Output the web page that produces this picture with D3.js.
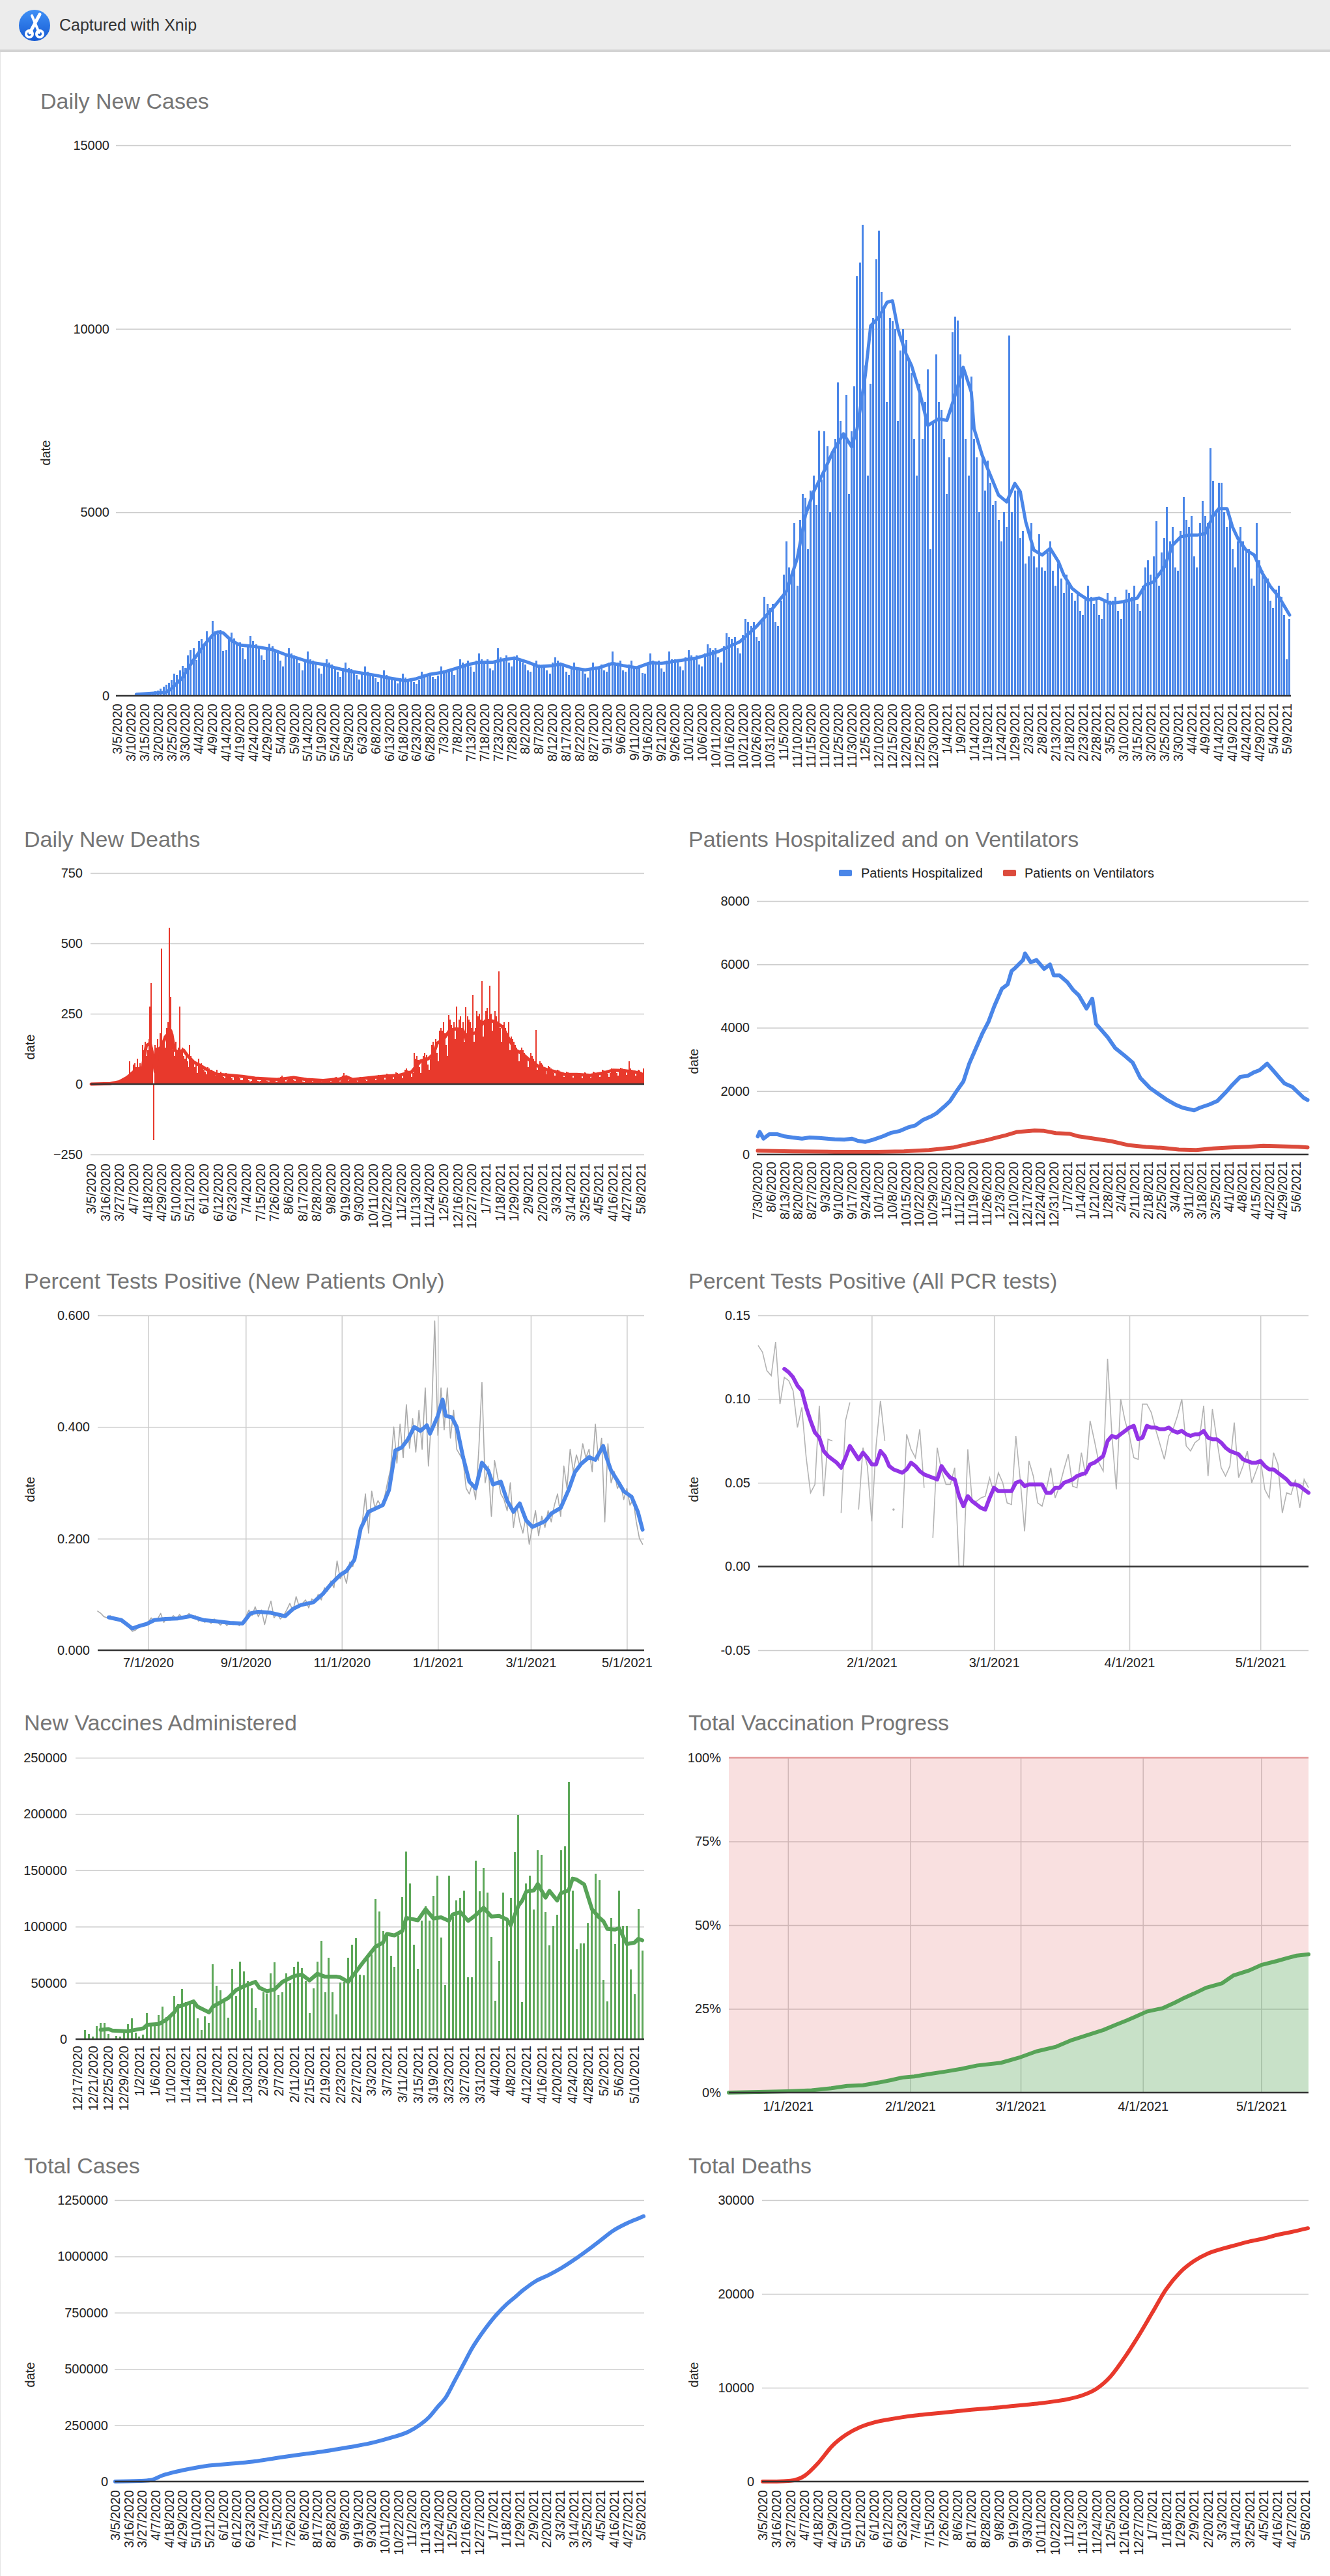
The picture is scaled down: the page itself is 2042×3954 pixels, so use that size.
<!DOCTYPE html>
<html><head><meta charset="utf-8">
<script src="https://cdn.jsdelivr.net/npm/d3@7"></script>
<style>body{margin:0;background:#fff;} svg text{font-family:"Liberation Sans",Arial,Helvetica,sans-serif;}</style>
</head><body><script>
// ---------------- DATA ----------------
const casesStart = new Date(2020,2,5);
const dailyCases = [0,1,2,3,4,8,10, 15,20,28,40,55,70,90, 120,150,190,240,300,360,420, 600,560,700,820,760,1100,1250,
1300,980,1500,1550,1400,1750,1600, 2040,1750,1680,1800,1220,1250,1600, 1720,1560,1400,1450,1300,1000,1350,
1630,1500,1400,1350,1100,980,1300, 1420,1350,1250,1200,950,800,1150, 1300,1150,1100,1050,880,700,1000,
1200,1000,950,900,750,600,850, 1000,900,850,800,650,520,760, 900,760,720,700,560,450,650,
800,650,620,600,480,380,560, 700,560,520,500,420,340,480, 600,500,470,450,380,320,430,
650,580,560,600,520,460,550, 800,700,650,720,680,560,800, 1000,900,850,950,800,650,950,
1150,1000,950,1000,750,700,900, 1300,1050,1000,1100,900,800,1050, 1100,950,900,850,700,650,850,
950,850,800,850,700,600,900, 1050,950,900,800,650,560,800, 900,780,720,700,600,500,700,
900,800,780,850,700,650,900, 1200,900,900,950,700,650,850, 950,800,780,760,620,600,850,
1150,950,900,950,750,650,950, 1200,1000,1000,950,800,700,1050, 1250,1100,1050,1100,850,800,1150,
1400,1300,1250,1300,1050,900,1350, 1700,1600,1550,1600,1300,1150,1650, 2100,2000,1900,2000,1600,1500,2100,
2700,2500,2400,2500,2000,1900,2600, 3300,4200,3500,3300,4700,3000,4800, 5500,5400,4000,5600,6000,5200,7230,
5900,7200,6800,5000,6600,7000,8540, 7500,7100,8210,5500,7200,8440,11440, 11800,12826,9000,6000,8500,10300,11890,
12680,11000,10600,8000,10300,10200,10000, 7500,9400,10000,9700,9200,8800,7000, 6000,8500,7000,8000,8900,4000,7500,
9300,8000,7800,7000,5500,6500,9900, 10340,10230,9300,8800,7000,6000,8700, 7000,6500,5000,6500,5600,6400,5800,
5200,5300,4800,4200,5000,4600,9820, 5000,5600,5600,4300,4500,3600,3800, 4700,3800,3500,4400,3500,3400,3900,
4200,3400,3000,3600,3200,2800,3300, 3100,2800,2600,2800,2300,2200,2700, 3000,2700,2500,2700,2200,2100,2600,
2800,2600,2600,2700,2300,2100,2600, 2900,2800,2700,3000,2500,2300,3000, 3500,3700,3300,3800,4760,3000,3900,
4300,5140,4200,4600,3500,3400,4500, 5420,4800,4600,4900,3800,3500,4700, 5300,4900,4700,6750,5850,5000,5800,
5800,5000,4600,4800,4000,3500,4200, 4600,4200,4000,4000,3200,3000,4700, 3700,3400,3200,3200,2600,2400,2900,
3000,2700,2200,1000,2100];
const casesAvgDays = [7,18,20,24,28,32,35,37,39,42,45,49,52,57,62,66,71,76,80,85,90,95,99,106,110,115,120,124,129,133,138,141,146,151,155,160,163,167,172,177,182,186,191,196,200,205,213,221,229,235,241,246,250,253,256,260,263,267,270,272,275,277,280,283,285,287,290,292,295,298,302,305,308,311,314,315,318,321,324,327,330,332,334,337,340,343,346,348,351,354,357,361,365,370,375,378,381,385,388,391,394,397,400,403,405,408,410,412,415,418,421,424,427,431];
const casesAvgVals = [40,95,200,497,976,1385,1651,1740,1710,1503,1385,1355,1325,1260,1118,1030,912,852,764,675,616,557,497,408,467,586,645,734,852,912,912,970,1030,912,799,823,865,764,704,764,882,823,764,900,882,940,1030,1207,1479,1887,2384,2840,3745,4920,5557,6142,6640,7140,6780,7278,8725,10083,10314,10722,10763,9994,9315,9000,8272,7367,7547,7502,8183,8950,8272,7278,6551,6008,5468,5283,5787,5557,4740,3970,3835,4016,3657,3290,2930,2752,2610,2663,2521,2565,2663,3018,3107,3515,4106,4332,4378,4378,4420,4920,5101,5101,4602,4287,3970,3835,3338,2974,2702,2201];

const dailyDeaths = [0,0,0,0,0,0,0, 0,0,0,0,1,0,1, 1,2,2,3,4,5,6, 8,10,12,15,14,20,25, 30,28,80,35,40,70,75,
60,90,50,75,60,140,120, 150,100,120,160,275,358,130, -200,140,130,160,120,180,481, 150,170,130,200,220,555,311,
190,120,100,150,110,130,275, 120,130,100,90,110,80,60, 140,100,90,80,60,70,40, 90,70,75,60,50,45,35,
60,55,40,50,40,35,30, 50,40,35,45,30,25,20, 40,35,30,35,25,20,15, 35,30,30,25,20,15,15,
30,25,25,20,15,10,12, 25,22,20,18,12,10,12, 22,20,18,15,12,8,10, 20,18,16,14,10,8,12,
20,25,30,22,18,10,15, 25,22,28,20,15,12,18, 20,18,15,14,10,8,12, 18,16,15,12,10,8,10,
16,15,14,12,10,8,10, 18,16,14,12,10,8,12, 20,22,25,18,15,10,14, 30,40,28,22,18,12,15,
22,20,18,16,12,10,14, 25,22,20,18,15,12,16, 28,25,24,22,18,14,20, 32,30,28,26,22,16,24,
36,34,32,30,25,18,28, 42,40,38,35,28,20,32, 50,55,48,45,38,25,40, 110,90,100,85,60,40,80,
100,110,95,105,70,50,90, 140,150,130,160,110,80,190, 200,190,220,180,140,100,246, 230,210,200,220,160,275,190,
230,240,200,220,150,274,180, 240,230,220,200,318,150,200, 260,240,250,230,366,170,230, 260,270,230,350,250,190,230,
260,240,220,401,200,150,210, 220,200,190,180,219,120,170, 160,150,140,130,110,80,120, 130,120,110,100,90,60,90,
110,100,90,80,192,50,70, 80,75,70,60,50,35,55, 65,60,55,50,40,30,45, 50,48,45,40,35,25,40,
45,42,40,38,30,22,35, 40,38,36,35,28,20,32, 42,40,38,36,30,22,35, 45,42,40,38,32,25,38,
50,48,46,42,36,26,40, 55,52,50,48,40,30,45, 58,55,52,50,45,32,48, 80,55,52,48,40,30,45,
50,48,45,40,55];
const deathsAvgDays = [0,15,22,28,35,40,43,46,48,50,52,55,58,62,63,65,68,72,75,80,85,92,98,108,118,128,145,158,168,181,194,199,204,214,227,240,250,257,263,267,270,275,280,285,290,293,296,301,306,311,316,321,326,331,336,343,349,356,363,369,379,389,399,407,415,424,430];
const deathsAvgVals = [0,2,8,23,51,59,137,145,106,43,121,133,168,190,176,121,113,121,102,78,66,47,35,31,27,21,16,23,16,13,18,26,16,21,27,31,43,82,90,106,145,160,192,196,192,152,176,184,219,227,219,203,160,121,109,82,63,51,43,35,34,31,39,49,48,43,35];

const hospStart = new Date(2020,6,30);
const hospDayCount = 287;
const hospSeries = ['Patients Hospitalized','Patients on Ventilators'];
const hospDays = [0,1,3,6,10,14,18,23,27,32,36,40,45,49,52,56,60,65,69,74,78,82,86,90,93,97,100,103,107,110,113,117,120,123,127,130,132,134,138,139,142,145,149,152,154,157,161,164,167,171,174,176,182,186,191,195,199,204,208,213,217,221,227,230,235,239,244,247,251,255,258,261,263,265,268,271,274,278,281,284,286];
const hospVals = [570,710,500,640,640,570,535,500,535,520,500,480,466,500,431,397,466,570,675,744,849,918,1092,1197,1301,1510,1684,1962,2310,2866,3284,3840,4188,4675,5232,5371,5788,5893,6136,6345,6066,6136,5858,5997,5649,5649,5440,5197,5023,4605,4919,4118,3701,3353,3110,2901,2414,2101,1927,1718,1579,1475,1391,1475,1579,1684,1997,2205,2449,2484,2588,2657,2762,2866,2657,2449,2240,2136,1962,1788,1718];
const ventDays = [0,18,40,62,76,89,102,111,120,129,135,144,149,155,162,167,175,184,193,202,210,219,228,237,246,255,263,272,281,286];
const ventVals = [118,97,83,83,97,139,223,348,466,605,710,758,744,675,654,570,500,417,292,237,209,153,139,188,223,243,271,257,243,223];

// Percent positive (new patients): day offsets from 7/1/2020
const newPosBase = new Date(2020,6,1);
const newPosDomain = [new Date(2020,4,30), new Date(2021,4,12)];
const newPosRawFirstT = -32, newPosRawStep = 2;
const newPosRaw = [.070,.066,.060,.058,.062,.055,.057,.052,.050,.046,.040,.034,.036,.042,.046,.044,
.050,.058,.052,.056,.066,.050,.058,.054,.062,.056,.064,.058,.060,.066,.058,.062,
.052,.056,.050,.054,.048,.056,.050,.045,.052,.044,.050,.046,.048,.044,.050,.060,
.072,.062,.078,.060,.072,.046,.070,.088,.058,.066,.056,.062,.072,.084,.070,.096,
.078,.084,.090,.076,.092,.086,.100,.090,.112,.106,.124,.112,.160,.128,.138,.120,
.158,.150,.180,.200,.228,.280,.210,.285,.255,.268,.258,.272,.300,.325,.400,.335,
.405,.345,.440,.362,.415,.355,.430,.360,.470,.330,.420,.590,.385,.470,.395,.470,
.380,.430,.360,.350,.340,.290,.280,.300,.270,.360,.480,.300,.330,.240,.340,.310,
.280,.270,.250,.300,.220,.260,.230,.210,.240,.190,.220,.250,.205,.240,.220,.250,
.230,.260,.280,.240,.330,.290,.360,.320,.350,.330,.370,.345,.360,.320,.405,.340,
.380,.230,.370,.300,.320,.290,.300,.270,.290,.260,.270,.230,.200,.190];
const newPosAvgT = [-25,-17,-10,-5,-1,4,11,19,27,35,43,52,60,65,70,78,87,92,97,105,111,116,122,126,131,135,140,149,153,157,161,165,169,173,177,179,184,187,189,193,196,200,204,208,212,216,219,224,228,232,236,240,244,248,252,256,262,267,271,275,280,284,289,291,294,298,302,307,311,314];
const newPosAvgV = [0.059,0.054,0.039,0.044,0.047,0.054,0.056,0.057,0.061,0.054,0.052,0.049,0.048,0.066,0.069,0.067,0.061,0.074,0.081,0.086,0.101,0.118,0.135,0.142,0.162,0.218,0.248,0.260,0.287,0.358,0.363,0.378,0.400,0.393,0.403,0.388,0.420,0.449,0.420,0.417,0.400,0.346,0.302,0.290,0.336,0.322,0.297,0.302,0.268,0.248,0.263,0.233,0.221,0.226,0.231,0.245,0.255,0.287,0.319,0.334,0.346,0.341,0.366,0.346,0.322,0.304,0.285,0.275,0.248,0.216];
const newPosXTicks = [new Date(2020,6,1),new Date(2020,8,1),new Date(2020,10,1),new Date(2021,0,1),new Date(2021,2,1),new Date(2021,4,1)];

// Percent positive (all PCR): daily from 1/6/2021
const pcrStart = new Date(2021,0,6);
const pcrDomain = [new Date(2021,0,6), new Date(2021,4,12)];
const pcrRaw = [.132,.128,.117,.114,.134,.097,.113,.111,.105,.083,
.095,.065,.044,.049,.096,.042,.076,.075,null,.032,
.087,.098,null,.034,.071,.060,.027,.072,.099,.075,
null,.034,null,.023,.079,.070,.065,.082,.047,null,
.017,.071,.057,.049,.049,.059,.000,.000,.070,.039,
.039,.041,.042,.053,.044,.056,.050,.038,.037,.078,
.052,.021,.063,.054,.038,.036,.046,.059,.041,.048,
.058,.067,.048,.047,.068,.054,.087,.075,.062,.057,
.124,.078,.046,.100,.087,.078,.065,.064,.097,.097,
.092,.082,.073,.064,.078,.082,.090,.100,.072,.069,
.074,.076,.096,.054,.094,.076,.059,.054,.060,.086,
.053,.060,.069,.050,.057,.064,.046,.041,.068,.061,
.032,.044,.043,.052,.035,.052,.047];
const pcrAvgFirstDay = 6;
const pcrAvg = [.118,.116,.113,.108,.105,.095,.087,.080,.077,.069,
.066,.064,.062,.059,.065,.072,.068,.064,.068,.065,
.061,.061,.069,.066,.060,.058,.057,.056,.058,.062,
.060,.057,.055,.054,.053,.052,.060,.056,.053,.052,
.042,.036,.042,.039,.037,.035,.034,.041,.047,.045,
.045,.045,.045,.050,.051,.048,.049,.049,.049,.049,
.044,.044,.047,.047,.050,.051,.052,.054,.055,.056,
.061,.062,.064,.066,.075,.078,.077,.079,.081,.083,
.084,.076,.077,.084,.083,.083,.082,.082,.083,.081,
.080,.081,.079,.078,.079,.079,.081,.077,.076,.076,
.074,.071,.069,.068,.067,.064,.063,.062,.062,.063,
.060,.058,.058,.056,.054,.052,.049,.049,.048,.046,.044];
const pcrXTicks = [new Date(2021,1,1),new Date(2021,2,1),new Date(2021,3,1),new Date(2021,4,1)];

// Vaccines: daily from 12/17/2020
const vaccStart = new Date(2020,11,17);
const dailyVacc = [0,0,8300,4400,2300,11600,14700,14200,4400,0,3100,2300,5700,13400,18600,5700,2300,3900,23000,12100,13400,21200,28900,19900,21200,38000,31000,44400,32800,34100,34100,18600,8300,20400,14200,66400,47500,43600,35400,19100,62500,38000,69000,60400,51400,44900,27600,16500,41800,40600,58600,68500,39300,41800,58600,49600,64300,69000,63300,51700,23000,44900,69000,87600,41800,72100,41800,22000,50400,50900,72100,83900,89600,57300,56600,74100,75400,124500,113400,96100,93500,74100,64300,92200,126300,166600,138200,83900,62500,105600,118000,105100,127100,145200,90100,47800,145200,109000,123200,125800,132200,54800,54800,158800,131500,152100,130200,90900,34100,69500,130400,106400,125300,165800,198900,32800,138200,145200,114900,167600,163800,112900,83200,100700,110800,167600,171500,228600,132200,80100,85000,85000,103100,116800,147000,141300,52700,33300,107700,84500,132200,100500,100500,61700,39800,115500,78500];
const vaccAvgDays = [6,8,9,13,15,17,18,21,23,25,26,28,30,31,34,35,37,39,41,43,46,47,49,51,53,56,58,60,62,64,67,68,70,72,74,77,79,80,82,84,85,88,90,92,94,96,97,99,101,103,105,107,109,111,112,114,115,116,118,119,121,122,124,125,127,128,129,131,133,135,136,137,139,140,142,144,145,146];
const vaccAvgVals = [8300,9000,7700,7000,8300,9600,12700,13400,17300,23800,28900,31000,33600,28900,23800,28900,32800,36700,43600,47000,50900,45700,42600,44400,50900,56100,57300,52200,58100,55500,55500,54800,50900,59900,69000,81900,85800,93500,92200,96100,107700,105600,115500,107200,108200,105100,110800,112900,105100,110300,116800,109000,109500,106400,101300,118600,123200,131000,132200,137900,125800,131700,123200,129700,132200,142600,141800,137400,115500,107700,104600,97900,97400,98700,84500,85800,89100,87800];

// Vaccination progress (% of population), day offsets from 12/17/2020
const progDomain = [new Date(2020,11,17), new Date(2021,4,13)];
const progDays = [0,15,21,26,30,34,38,41,44,47,50,55,59,63,69,74,78,83,87,91,95,98,101,103,106,110,113,115,118,121,125,128,132,135,139,142,144,147];
const progVals = [0,0.4,0.7,1.3,2.0,2.2,3.0,3.7,4.5,4.8,5.4,6.3,7.1,8.1,8.9,10.6,12.3,13.7,15.7,17.2,18.7,20.2,21.6,22.6,24.2,25.2,26.8,28.0,29.6,31.3,32.6,35.0,36.5,38.1,39.3,40.3,40.9,41.3];
const progXTicks = [new Date(2021,0,1),new Date(2021,1,1),new Date(2021,2,1),new Date(2021,3,1),new Date(2021,4,1)];

// Totals, day offsets from 3/5/2020
const totalCasesDays = [0,20,29,38,48,59,72,86,100,114,128,142,156,170,183,197,211,225,239,249,256,263,270,277,284,291,298,305,312,319,326,333,343,354,364,375,385,396,406,417,427,431];
const totalCasesVals = [0,2600,6500,26000,41500,54600,67500,75300,81800,89600,101300,113000,123400,133800,145500,158500,174100,194900,220800,253300,285800,331200,376700,448200,519600,591000,649500,701500,746900,785900,818400,850800,889800,918400,948300,987200,1026200,1071700,1113300,1145700,1169100,1178200];
const totalDeathsDays = [0,11,22,33,44,55,66,77,88,99,110,121,132,143,154,165,176,187,198,209,220,231,242,253,264,275,286,297,308,319,330,341,352,363,374,385,396,407,418,431];
const totalDeathsVals = [0,5,80,600,2000,3800,5000,5800,6300,6600,6850,7050,7200,7350,7500,7650,7780,7900,8050,8200,8350,8550,8800,9200,9900,11200,13200,15500,18000,20500,22300,23500,24300,24800,25200,25600,25900,26300,26600,27000];

// Y tick values
const casesYTicks = [0,5000,10000,15000];
const deathsYTicks = [-250,0,250,500,750];
const hospYTicks = [0,2000,4000,6000,8000];
const newPosYTicks = [0,0.2,0.4,0.6];
const pcrYTicks = [-0.05,0,0.05,0.10,0.15];
const vaccYTicks = [0,50000,100000,150000,200000,250000];
const progYTicks = [0,25,50,75,100];
const totalCasesYTicks = [0,250000,500000,750000,1000000,1250000];
const totalDeathsYTicks = [0,10000,20000,30000];

// Category dates and x tick labels
const fmtDate = d3.timeFormat('%-m/%-d/%Y');
const nDays = dailyCases.length;
const caseDates = d3.range(nDays).map(i => d3.timeDay.offset(casesStart, i));
const hospDates = d3.range(hospDayCount).map(i => d3.timeDay.offset(hospStart, i));
const vaccDates = dailyVacc.map((_, i) => d3.timeDay.offset(vaccStart, i));
const casesTickIdx = d3.range(0, nDays, 5);
const casesTickLabels = casesTickIdx.map(i => fmtDate(caseDates[i]));
const elevenTickIdx = d3.range(0, nDays, 11);
const elevenTickLabels = elevenTickIdx.map(i => fmtDate(caseDates[i]));
const hospTickIdx = d3.range(0, hospDayCount, 7);
const hospTickLabels = hospTickIdx.map(i => fmtDate(hospDates[i]));
const vaccTickIdx = d3.range(0, dailyVacc.length, 4);
const vaccTickLabels = vaccTickIdx.map(i => fmtDate(vaccDates[i]));

// ---------------- DRAWING ----------------
const FONT = '"Liberation Sans", Arial, Helvetica, sans-serif';
const W = 2042, H = 3954;
const svg = d3.select('body').append('svg').attr('width', W).attr('height', H);
svg.append('rect').attr('width', W).attr('height', H).attr('fill', '#fff');

// header
svg.append('rect').attr('width', W).attr('height', 76).attr('fill', '#ececec');
svg.append('rect').attr('y', 76).attr('width', W).attr('height', 4).attr('fill', '#d3d3d3');
const defs = svg.append('defs');
const ig = defs.append('linearGradient').attr('id', 'ig').attr('x1', 0).attr('y1', 0).attr('x2', 0).attr('y2', 1);
ig.append('stop').attr('offset', 0).attr('stop-color', '#3f90f6');
ig.append('stop').attr('offset', 1).attr('stop-color', '#1559d2');
svg.append('circle').attr('cx', 53).attr('cy', 39).attr('r', 24).attr('fill', 'url(#ig)');
const sc = svg.append('g').attr('stroke', '#fff').attr('stroke-linecap', 'round').attr('fill', 'none');
sc.append('line').attr('x1', 46).attr('y1', 50).attr('x2', 61).attr('y2', 22).attr('stroke-width', 5);
sc.append('line').attr('x1', 60).attr('y1', 50).attr('x2', 49).attr('y2', 24).attr('stroke-width', 4);
sc.append('circle').attr('cx', 45).attr('cy', 52).attr('r', 5).attr('stroke-width', 4);
sc.append('circle').attr('cx', 61).attr('cy', 52).attr('r', 5).attr('stroke-width', 4);
svg.append('text').attr('x', 91).attr('y', 47).attr('font-size', 25).attr('fill', '#333').text('Captured with Xnip');
svg.append('line').attr('x1', 0.5).attr('x2', 0.5).attr('y1', 80).attr('y2', H).attr('stroke', '#e4e4e4');

function title(x, y, t) {
  svg.append('text').attr('x', x).attr('y', y).attr('font-size', 34).attr('fill', '#757575').text(t);
}
function dateTitle(x, y) {
  svg.append('text').attr('transform', `translate(${x},${y}) rotate(-90)`).attr('text-anchor', 'middle')
    .attr('dy', '0.35em').attr('font-size', 20).attr('fill', '#222').text('date');
}
function yAxis(y, ticks, fmt, x0, x1, labelRight, zeroVal) {
  const g = svg.append('g').attr('transform', `translate(${x0},0)`)
    .call(d3.axisLeft(y).tickValues(ticks).tickFormat(fmt).tickSize(-(x1 - x0)).tickPadding(x0 - labelRight));
  g.attr('font-family', FONT).attr('font-size', 20);
  g.select('.domain').remove();
  g.selectAll('.tick line').attr('stroke', d => d === zeroVal ? 'none' : '#cccccc').attr('stroke-width', 1.5);
  g.selectAll('.tick text').attr('fill', '#222');
  return g;
}
function baseline(yv, x0, x1) {
  svg.append('line').attr('x1', x0).attr('x2', x1).attr('y1', yv).attr('y2', yv)
    .attr('stroke', '#333').attr('stroke-width', 2.5);
}
function xBandAxis(x, idx, labels, axisY, labelTop) {
  const g = svg.append('g').attr('transform', `translate(0,${axisY})`)
    .call(d3.axisBottom(x).tickValues(idx).tickFormat(d => labels[idx.indexOf(d)]).tickSize(0));
  g.attr('font-family', FONT).attr('font-size', 20);
  g.select('.domain').remove();
  g.selectAll('.tick text').attr('fill', '#222').attr('transform', 'rotate(-90)').attr('text-anchor', 'end')
    .attr('x', -(labelTop - axisY)).attr('y', 0).attr('dy', '0.35em');
}
function xTimeAxis(x, ticks, axisY, plotTop, pad) {
  const g = svg.append('g').attr('transform', `translate(0,${axisY})`)
    .call(d3.axisBottom(x).tickValues(ticks).tickFormat(fmtDate).tickSize(-(axisY - plotTop)).tickPadding(pad));
  g.attr('font-family', FONT).attr('font-size', 20);
  g.select('.domain').remove();
  g.selectAll('.tick line').attr('stroke', '#cccccc').attr('stroke-width', 1.5);
  g.selectAll('.tick text').attr('fill', '#222');
}
function bars(x, y, data, color, wFrac) {
  const bw = Math.max(1, Math.round(x.step() * wFrac));
  svg.append('g').attr('shape-rendering', 'crispEdges').selectAll('rect').data(data).join('rect')
    .attr('x', (d, i) => Math.round(x(i) + x.bandwidth() / 2 - bw / 2))
    .attr('width', bw)
    .attr('y', d => y(Math.max(0, d)))
    .attr('height', d => Math.abs(y(d) - y(0)))
    .attr('fill', color);
}
function pathLine(points, color, width, curve) {
  const l = d3.line().x(d => d[0]).y(d => d[1]).curve(curve || d3.curveLinear);
  svg.append('path').attr('d', l(points)).attr('fill', 'none').attr('stroke', color)
    .attr('stroke-width', width).attr('stroke-linejoin', 'round').attr('stroke-linecap', 'round');
}

const BLUE = '#4a86e8', RED = '#e8392c', VRED = '#dc4b3c', PURPLE = '#9334e6', GREEN = '#5ea85a', GREENL = '#57a357';

// ---- Chart 1: Daily New Cases ----
{
  const x0 = 178, x1 = 1982, yT = 223, yB = 1068;
  const x = d3.scaleBand().domain(d3.range(nDays)).range([x0, x1]);
  const y = d3.scaleLinear().domain([0, 15000]).range([yB, yT]);
  title(62, 167, 'Daily New Cases');
  yAxis(y, casesYTicks, d3.format('d'), x0, x1, 168, 0);
  bars(x, y, dailyCases, BLUE, 0.72);
  pathLine(casesAvgDays.map((d, i) => [x(d) + x.bandwidth() / 2, y(casesAvgVals[i])]), BLUE, 5);
  baseline(y(0), x0, x1);
  xBandAxis(x, casesTickIdx, casesTickLabels, yB, 1080);
  dateTitle(70, 695);
}

// ---- Chart 2: Daily New Deaths ----
{
  const x0 = 139, x1 = 989, yT = 1340, yB = 1772;
  const x = d3.scaleBand().domain(d3.range(nDays)).range([x0, x1]);
  const y = d3.scaleLinear().domain([-250, 750]).range([yB, yT]);
  title(37, 1300, 'Daily New Deaths');
  yAxis(y, deathsYTicks, d3.format('d'), x0, x1, 127, 0);
  bars(x, y, dailyDeaths, RED, 0.8);
  pathLine(deathsAvgDays.map((d, i) => [x(d) + x.bandwidth() / 2, y(deathsAvgVals[i])]), RED, 5);
  baseline(y(0), x0, x1);
  xBandAxis(x, elevenTickIdx, elevenTickLabels, yB, 1786);
  dateTitle(46, 1607);
}

// ---- Chart 3: Hospitalized / Ventilators ----
{
  const x0 = 1162, x1 = 2009, yT = 1383, yB = 1772;
  const x = d3.scaleBand().domain(d3.range(hospDayCount)).range([x0, x1]);
  const y = d3.scaleLinear().domain([0, 8000]).range([yB, yT]);
  title(1057, 1300, 'Patients Hospitalized and on Ventilators');
  const lg = svg.append('g').attr('font-size', 20).attr('fill', '#222');
  const lx = [1288, 1540], tx = [1322, 1573], lc = [BLUE, VRED];
  hospSeries.forEach((s, i) => {
    lg.append('rect').attr('x', lx[i]).attr('y', 1335).attr('width', 20).attr('height', 10).attr('rx', 2).attr('fill', lc[i]);
    lg.append('text').attr('x', tx[i]).attr('y', 1340).attr('dy', '0.35em').text(s);
  });
  yAxis(y, hospYTicks, d3.format('d'), x0, x1, 1151, 0);
  pathLine(ventDays.map((d, i) => [x(d) + x.bandwidth() / 2, y(ventVals[i])]), VRED, 6);
  pathLine(hospDays.map((d, i) => [x(d) + x.bandwidth() / 2, y(hospVals[i])]), BLUE, 6);
  baseline(y(0), x0, x1);
  xBandAxis(x, hospTickIdx, hospTickLabels, yB, 1783);
  dateTitle(1065, 1629);
}

// ---- Chart 4: Percent Tests Positive (New Patients Only) ----
{
  const x0 = 150, x1 = 989, yT = 2019, yB = 2533;
  const x = d3.scaleTime().domain(newPosDomain).range([x0, x1]);
  const y = d3.scaleLinear().domain([0, 0.6]).range([yB, yT]);
  title(37, 1978, 'Percent Tests Positive (New Patients Only)');
  xTimeAxis(x, newPosXTicks, yB, yT, 12);
  yAxis(y, newPosYTicks, d => d.toFixed(3), x0, x1, 138, 0);
  pathLine(newPosRaw.map((v, i) => [x(d3.timeDay.offset(newPosBase, newPosRawFirstT + i * newPosRawStep)), y(v)]), '#ababab', 1.6);
  pathLine(newPosAvgT.map((t, i) => [x(d3.timeDay.offset(newPosBase, t)), y(newPosAvgV[i])]), BLUE, 6);
  baseline(y(0), x0, x1);
  dateTitle(46, 2286);
}

// ---- Chart 5: Percent Tests Positive (All PCR tests) ----
{
  const x0 = 1164, x1 = 2009, yT = 2019, yB = 2533;
  const x = d3.scaleTime().domain(pcrDomain).range([x0, x1]);
  const y = d3.scaleLinear().domain([-0.05, 0.15]).range([yB, yT]);
  title(1057, 1978, 'Percent Tests Positive (All PCR tests)');
  xTimeAxis(x, pcrXTicks, yB, yT, 12);
  yAxis(y, pcrYTicks, d => d.toFixed(2), x0, x1, 1152, 0);
  const rawPts = pcrRaw.map((v, i) => v == null ? null : [x(d3.timeDay.offset(pcrStart, i)), y(v)]);
  const rl = d3.line().defined(d => d != null).x(d => d[0]).y(d => d[1]);
  svg.append('path').attr('d', rl(rawPts)).attr('fill', 'none').attr('stroke', '#b3b3b3').attr('stroke-width', 1.6);
  rawPts.forEach((p, i) => {
    if (p && !rawPts[i - 1] && !rawPts[i + 1]) svg.append('circle').attr('cx', p[0]).attr('cy', p[1]).attr('r', 1.8).attr('fill', '#b3b3b3');
  });
  baseline(y(0), x0, x1);
  pathLine(pcrAvg.map((v, i) => [x(d3.timeDay.offset(pcrStart, pcrAvgFirstDay + i)), y(v)]), PURPLE, 6);
  dateTitle(1065, 2286);
}

// ---- Chart 6: New Vaccines Administered ----
{
  const x0 = 116, x1 = 989, yT = 2698, yB = 3130;
  const x = d3.scaleBand().domain(d3.range(dailyVacc.length)).range([x0, x1]);
  const y = d3.scaleLinear().domain([0, 250000]).range([yB, yT]);
  title(37, 2656, 'New Vaccines Administered');
  yAxis(y, vaccYTicks, d3.format('d'), x0, x1, 103, 0);
  bars(x, y, dailyVacc, GREEN, 0.45);
  pathLine(vaccAvgDays.map((d, i) => [x(d) + x.bandwidth() / 2, y(vaccAvgVals[i])]), GREENL, 6);
  baseline(y(0), x0, x1);
  xBandAxis(x, vaccTickIdx, vaccTickLabels, yB, 3140);
}

// ---- Chart 7: Total Vaccination Progress ----
{
  const x0 = 1119, x1 = 2009, yT = 2698, yB = 3212;
  const x = d3.scaleTime().domain(progDomain).range([x0, x1]);
  const y = d3.scaleLinear().domain([0, 100]).range([yB, yT]);
  title(1057, 2656, 'Total Vaccination Progress');
  xTimeAxis(x, progXTicks, yB, yT, 14);
  yAxis(y, progYTicks, d => d + '%', x0, x1, 1107, 0);
  const pts = progDays.map((d, i) => ({ x: x(d3.timeDay.offset(progDomain[0], d)), v: progVals[i] }));
  svg.append('path').attr('d', d3.area().x(d => d.x).y0(y(100)).y1(d => y(d.v))(pts))
    .attr('fill', '#e06666').attr('fill-opacity', 0.2);
  svg.append('path').attr('d', d3.area().x(d => d.x).y0(y(0)).y1(d => y(d.v))(pts))
    .attr('fill', '#57a357').attr('fill-opacity', 0.33);
  svg.append('line').attr('x1', x0).attr('x2', x1).attr('y1', y(100)).attr('y2', y(100))
    .attr('stroke', '#e59c9c').attr('stroke-width', 2.5);
  pathLine(pts.map(d => [d.x, y(d.v)]), GREENL, 6);
  baseline(y(0), x0, x1);
}

// ---- Chart 8: Total Cases ----
{
  const x0 = 176, x1 = 989, yT = 3377, yB = 3809;
  const x = d3.scaleBand().domain(d3.range(nDays)).range([x0, x1]);
  const y = d3.scaleLinear().domain([0, 1250000]).range([yB, yT]);
  title(37, 3336, 'Total Cases');
  yAxis(y, totalCasesYTicks, d3.format('d'), x0, x1, 166, 0);
  pathLine(totalCasesDays.map((d, i) => [x(d) + x.bandwidth() / 2, y(totalCasesVals[i])]), BLUE, 6, d3.curveMonotoneX);
  baseline(y(0), x0, x1);
  xBandAxis(x, elevenTickIdx, elevenTickLabels, yB, 3822);
  dateTitle(46, 3645);
}

// ---- Chart 9: Total Deaths ----
{
  const x0 = 1170, x1 = 2009, yT = 3377, yB = 3809;
  const x = d3.scaleBand().domain(d3.range(nDays)).range([x0, x1]);
  const y = d3.scaleLinear().domain([0, 30000]).range([yB, yT]);
  title(1057, 3336, 'Total Deaths');
  yAxis(y, totalDeathsYTicks, d3.format('d'), x0, x1, 1158, 0);
  pathLine(totalDeathsDays.map((d, i) => [x(d) + x.bandwidth() / 2, y(totalDeathsVals[i])]), RED, 6, d3.curveMonotoneX);
  baseline(y(0), x0, x1);
  xBandAxis(x, elevenTickIdx, elevenTickLabels, yB, 3822);
  dateTitle(1065, 3645);
}
</script></body></html>
